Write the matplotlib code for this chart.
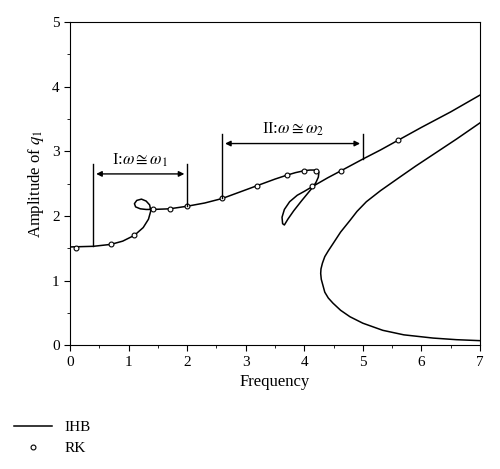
import matplotlib
matplotlib.use("Agg")
import matplotlib.pyplot as plt
from matplotlib.lines import Line2D

plt.rcParams['font.family'] = ['Liberation Serif', 'DejaVu Serif']
plt.rcParams['mathtext.fontset'] = 'stix'

ihb_x = [0, 0.2, 0.4, 0.7, 0.9, 1.1, 1.25, 1.34, 1.38, 1.36, 1.3, 1.22, 1.14, 1.1, 1.12, 1.2, 1.3, 1.4,
         1.7, 2.0, 2.3, 2.6, 2.9, 3.2, 3.5, 3.7, 3.85, 4.0, 4.1, 4.2, 4.25, 4.24, 4.2, 4.15,
         4.05, 3.95, 3.82, 3.72, 3.66, 3.63, 3.62, 3.66, 3.75, 3.88, 4.0, 4.15,
         4.4, 4.65, 5.0, 5.3, 5.6, 6.0, 6.5, 7.0]
ihb_y = [1.52, 1.525, 1.53, 1.56, 1.61, 1.7, 1.82, 1.95, 2.08, 2.17, 2.23, 2.26, 2.24, 2.19, 2.14, 2.11, 2.1, 2.1,
         2.11, 2.15, 2.2, 2.27, 2.37, 2.47, 2.57, 2.63, 2.67, 2.7, 2.71, 2.71, 2.68, 2.6, 2.52, 2.45,
         2.34, 2.23, 2.08, 1.95, 1.86, 1.88, 1.98, 2.1, 2.22, 2.32, 2.38, 2.46,
         2.59, 2.71, 2.88, 3.02, 3.17, 3.37, 3.61, 3.87]
br_x = [7.0, 6.6, 6.2, 5.9, 5.63, 5.3, 5.06, 4.9, 4.78, 4.62, 4.49, 4.41, 4.35, 4.31, 4.285, 4.28, 4.29, 4.32, 4.35, 4.41, 4.49, 4.62, 4.78, 5.0, 5.34, 5.7, 6.2, 6.6, 7.0]
br_y = [3.44, 3.19, 2.95, 2.77, 2.6, 2.39, 2.22, 2.07, 1.93, 1.75, 1.57, 1.46, 1.37, 1.27, 1.18, 1.11, 1.02, 0.92, 0.82, 0.73, 0.65, 0.54, 0.44, 0.34, 0.23, 0.16, 0.11, 0.085, 0.07]
rk_x = [0.1, 0.7, 1.1, 1.42, 1.7, 2.0, 2.6, 3.2, 3.7, 4.0, 4.2, 4.13, 4.63, 5.6]
rk_y = [1.51, 1.57, 1.7, 2.1, 2.11, 2.15, 2.27, 2.47, 2.63, 2.7, 2.7, 2.46, 2.7, 3.17]

fig = plt.figure(figsize=(5.0, 4.69), dpi=100)
ax = fig.add_axes([0.14, 0.264, 0.82, 0.689])
ax.plot(ihb_x, ihb_y, color='black', lw=1.1)
ax.plot(br_x, br_y, color='black', lw=1.1)
ax.plot(rk_x, rk_y, 'o', mfc='white', mec='black', ms=3.5, mew=0.8)

# annotations
ax.plot([0.4, 0.4], [1.53, 2.8], color='black', lw=1)
ax.plot([2.0, 2.0], [2.15, 2.8], color='black', lw=1)
ax.annotate('', xy=(0.4, 2.65), xytext=(2.0, 2.65),
            arrowprops=dict(arrowstyle='<|-|>', color='black', lw=1, mutation_scale=8))
ax.text(1.2, 2.72, r'I:$\omega\cong\omega_1$', ha='center', va='bottom', fontsize=12)
ax.plot([2.6, 2.6], [2.27, 3.27], color='black', lw=1)
ax.plot([5.0, 5.0], [2.88, 3.27], color='black', lw=1)
ax.annotate('', xy=(2.6, 3.12), xytext=(5.0, 3.12),
            arrowprops=dict(arrowstyle='<|-|>', color='black', lw=1, mutation_scale=8))
ax.text(3.8, 3.2, r'II:$\omega\cong\omega_2$', ha='center', va='bottom', fontsize=12)

ax.set_xlim(0, 7)
ax.set_ylim(0, 5)
ax.set_xticks(range(0, 8))
ax.set_yticks(range(0, 6))
ax.set_xticks([i + 0.5 for i in range(7)], minor=True)
ax.set_yticks([i + 0.5 for i in range(5)], minor=True)
ax.tick_params(which='both', direction='out', labelsize=11)
ax.tick_params(which='major', length=4)
ax.tick_params(which='minor', length=2.5)
ax.set_xlabel('Frequency', fontsize=12)
ax.set_ylabel(r'Amplitude of $q_1$', fontsize=12)

handles = [Line2D([], [], color='black', lw=1.1),
           Line2D([], [], ls='none', marker='o', mfc='white', mec='black', ms=3.5, mew=0.8)]
fig.legend(handles, ['IHB', 'RK'], loc='lower left', bbox_to_anchor=(0.0, 0.0),
           frameon=False, fontsize=11, handlelength=2.5)
fig.savefig('out.png', dpi=100)
